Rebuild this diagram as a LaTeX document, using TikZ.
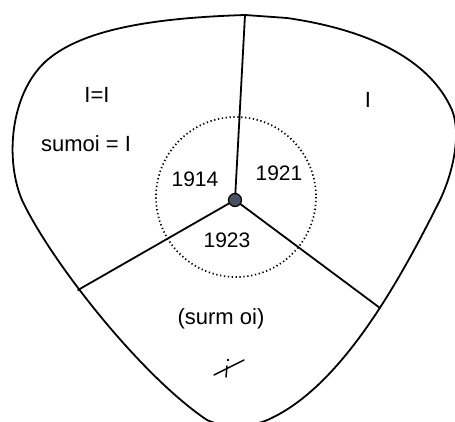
\documentclass[tikz,border=0pt]{standalone}
\usepackage{fontspec}
\setmainfont{Liberation Sans}
\definecolor{dotcol}{RGB}{72,82,98}
\begin{document}
\begin{tikzpicture}[x=1pt,y=-1pt,
  edge/.style={line width=1.8pt,line cap=round,line join=round},
  lbl/.style={inner sep=0pt,font=\fontsize{22}{26}\selectfont},
  yr/.style={inner sep=0pt,font=\fontsize{21}{25}\selectfont}]
\useasboundingbox (0,0) rectangle (455,421);
% outer boundary
\draw[edge] (245,15) -- (287,18)
  .. controls (370,30) and (430,60) .. (452,110)
  .. controls (462,135) and (452,175) .. (440,200)
  .. controls (400,280) and (340,390) .. (265,421)
  .. controls (245,428) and (225,428) .. (207,420)
  .. controls (140,375) and (50,260) .. (22,200)
  .. controls (5,160) and (10,95) .. (45,62)
  .. controls (80,30) and (150,18) .. (245,15) -- cycle;
% dotted circle
\draw[line width=1.7pt,dash pattern=on 1.3pt off 2.6pt] (236,197) circle[radius=80];
% centre and radial edges
\coordinate (c) at (235,200);
\coordinate (top) at (245,15);
\coordinate (lft) at (78,290);
\coordinate (rgt) at (380,308);
\draw[edge] (c) -- (top);
\draw[edge] (c) -- (lft);
\draw[edge] (c) -- (rgt);
\node[circle,draw=black,line width=1.2pt,fill=dotcol,minimum size=13pt,inner sep=0pt] (dot) at (c) {};
% labels
\node[lbl] (a) at (97,95) {I=I};
\node[lbl] (b) at (86,144) {sumoi = I};
\node[lbl] (r) at (368,100) {I};
\node[yr] (y1) at (195,179) {1914};
\node[yr] (y2) at (279,173) {1921};
\node[yr] (y3) at (227,240) {1923};
\node[lbl] (s) at (221,319) {(surm oi)};
% small cross mark
\draw[line width=1.5pt,line cap=round] (214,375) -- (244,360);
\draw[line width=1.5pt,line cap=round] (227,366) -- (226,377);
\fill (228,360) circle[radius=1.4];
\end{tikzpicture}
\end{document}
